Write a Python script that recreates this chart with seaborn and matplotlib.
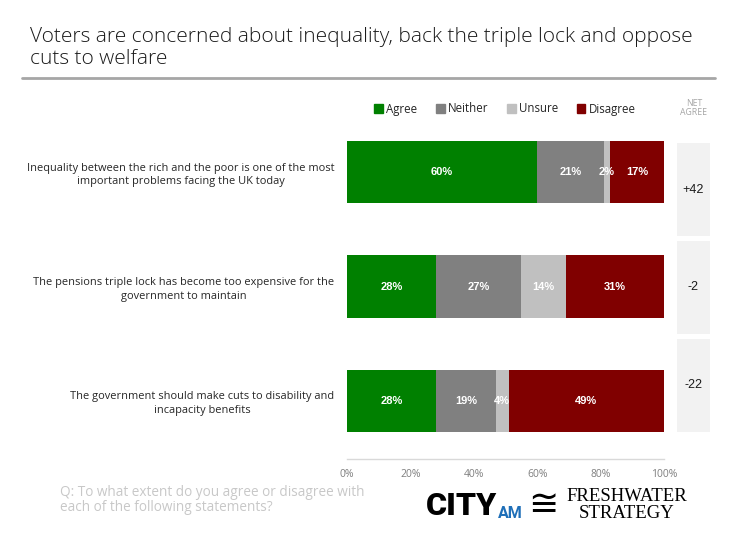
import numpy as np
import pandas as pd
import matplotlib
matplotlib.use("Agg")
import matplotlib.pyplot as plt
import matplotlib.patches as mpatches
import seaborn as sns

# ===============================
# Data
# ===============================
statements = [
    "Inequality between the rich and the poor is one of the most\nimportant problems facing the UK today",
    "The pensions triple lock has become too expensive for the\ngovernment to maintain",
    "The government should make cuts to disability and\nincapacity benefits",
]
responses = ["Agree", "Neither", "Unsure", "Disagree"]
agree = [60, 28, 28]
neither = [21, 27, 19]
unsure = [2, 14, 4]
disagree = [17, 31, 49]
net_agree = [42, -2, -22]
x_ticks = [0, 20, 40, 60, 80, 100]

colors = {"Agree": "#008000", "Neither": "#808080", "Unsure": "#c0c0c0", "Disagree": "#800000"}

df = pd.DataFrame({"statement": statements, "Agree": agree, "Neither": neither,
                   "Unsure": unsure, "Disagree": disagree})
cum = df[responses].cumsum(axis=1)

# ===============================
# Figure
# ===============================
sns.set_theme(style="white")
plt.rcParams["font.family"] = ["Open Sans", "DejaVu Sans"]

W, H = 738, 539
fig = plt.figure(figsize=(W / 100, H / 100), dpi=100)

def fx(px):
    return px / W

def fy(py):
    return 1 - py / H

# main stacked bar axes
ax = fig.add_axes([fx(347), fy(459), fx(664) - fx(347), fy(128) - fy(459)])
# stacked bars = overlapping cumulative totals (largest first)
for resp in reversed(responses):
    sns.barplot(x=cum[resp], y=df["statement"], orient="h", color=colors[resp],
                width=0.55, saturation=1, linewidth=0, ax=ax)

for i in range(len(df)):
    for resp in responses:
        v = df.loc[i, resp]
        ax.text(cum.loc[i, resp] - v / 2, i, f"{v}%", ha="center", va="center",
                color="white", fontsize=8, fontweight="bold",
                family=["Liberation Sans", "DejaVu Sans"])

ax.set_xlim(0, 100)
ax.set_ylim(2 + 58 / 114.5, -44 / 114.5)
ax.set_xticks(x_ticks)
ax.set_xticklabels([f"{t}%" for t in x_ticks], color="#7f7f7f", fontsize=7.5)
ax.tick_params(axis="x", length=0, pad=7)
ax.set_xlabel("")
ax.set_ylabel("")
ax.set_yticks(range(len(statements)))
ax.set_yticklabels(statements, fontsize=7.9, color="#262626", ha="right",
                   multialignment="center", linespacing=1.35)
ax.tick_params(axis="y", length=0, pad=9)
for s in ["top", "right", "left"]:
    ax.spines[s].set_visible(False)
ax.spines["bottom"].set_color("#d9d9d9")
ax.spines["bottom"].set_linewidth(1)

# net agree boxes
ax2 = fig.add_axes([fx(677), fy(432), fx(710) - fx(677), fy(143) - fy(432)])
net_df = pd.DataFrame({"statement": statements, "box": [1] * len(statements)})
sns.barplot(x=net_df["box"], y=net_df["statement"], orient="h", color="#f2f2f2",
            width=93 / 98, saturation=1, linewidth=0, ax=ax2)
for i, n in enumerate(net_agree):
    ax2.text(0.5, i, f"+{n}" if n > 0 else f"{n}", ha="center", va="center",
             fontsize=9, color="#1a1a1a", family=["Liberation Sans", "DejaVu Sans"])
ax2.set_xlim(0, 1)
ax2.set_ylim(2 + 46.5 / 98, -46.5 / 98)
ax2.axis("off")

fig.text(fx(694), fy(108), "NET\nAGREE", ha="center", va="center", fontsize=6.3,
         color="#a6a6a6", linespacing=1.1)

# legend
handles = [mpatches.Patch(color=colors[r], label=r) for r in responses]
fig.legend(handles=handles, loc="center", bbox_to_anchor=(fx(505), fy(109)), ncol=4,
           frameon=False, fontsize=8.3, handlelength=0.75, handleheight=0.75,
           handletextpad=0.3, columnspacing=1.6)

# title
fig.text(fx(30), fy(27), "Voters are concerned about inequality, back the triple lock and oppose\ncuts to welfare",
         ha="left", va="top", fontsize=15, fontweight="light", color="#1a1a1a",
         linespacing=1.12)
fig.add_artist(plt.Line2D([fx(22), fx(715)], [fy(78), fy(78)], color="#a6a6a6", linewidth=2))

# footer
fig.text(fx(60), fy(500), "Q: To what extent do you agree or disagree with\neach of the following statements?",
         ha="left", va="center", fontsize=9.8, color="#c8c8c8", linespacing=1.0)

fig.text(fx(426), fy(506), "CITY", ha="left", va="center", fontsize=23, fontweight="black",
         color="black", family=["Roboto", "DejaVu Sans"])
fig.text(fx(498), fy(513), "AM", ha="left", va="center", fontsize=11.5, fontweight="bold",
         color="#1f6fb8", family=["Roboto", "DejaVu Sans"])
fig.text(fx(543), fy(505), "\u2245", ha="center", va="center", fontsize=26, color="black",
         family=["DejaVu Sans"])
fig.text(fx(627), fy(505), "FRESHWATER\nSTRATEGY", ha="center", va="center", fontsize=13.5,
         color="black", family=["Liberation Serif", "DejaVu Serif"], linespacing=0.95)

fig.savefig("out.png", dpi=100)
